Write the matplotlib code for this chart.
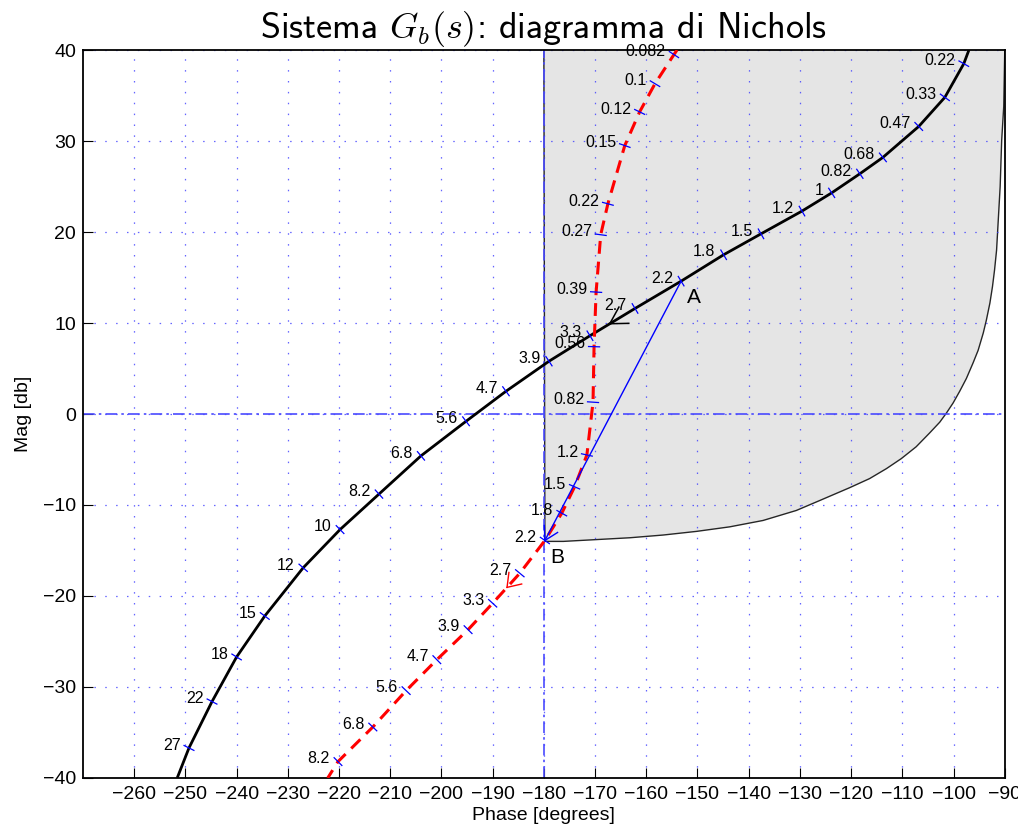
import numpy as np
import matplotlib
matplotlib.use("Agg")
import matplotlib.pyplot as plt

plt.rcParams["font.family"] = ["Liberation Sans", "DejaVu Sans"]
plt.rcParams["mathtext.fontset"] = "cm"

# curva di G_b (nera): pulsazioni e punti (fase, modulo)
black_w = [0.22, 0.33, 0.47, 0.68, 0.82, 1, 1.2, 1.5, 1.8, 2.2, 2.7, 3.3,
           3.9, 4.7, 5.6, 6.8, 8.2, 10, 12, 15, 18, 22, 27]
black_phase = [-98.0, -101.7, -106.8, -113.8, -118.3, -123.8, -129.6, -137.6,
               -144.9, -153.2, -162.2, -171.0, -179.0, -187.4, -195.2, -204.0,
               -212.2, -219.8, -227.0, -234.5, -240.0, -244.8, -249.3]
black_mag = [38.5, 34.8, 31.6, 28.2, 26.4, 24.3, 22.3, 19.8, 17.5, 14.6, 11.6,
             8.6, 5.8, 2.5, -0.8, -4.6, -8.8, -12.7, -16.9, -22.2, -26.7,
             -31.6, -36.7]
black_ends_phase = [-97.0, -251.6]
black_ends_mag = [40.0, -40.0]

# curva tratteggiata rossa
red_w = [0.082, 0.1, 0.12, 0.15, 0.22, 0.27, 0.39, 0.56, 0.82, 1.2, 1.5, 1.8,
         2.2, 2.7, 3.3, 3.9, 4.7, 5.6, 6.8, 8.2]
red_phase = [-154.6, -158.3, -161.3, -164.2, -167.5, -168.9, -169.8, -170.2,
             -170.4, -171.6, -174.0, -176.5, -179.8, -184.7, -190.0, -194.8,
             -200.9, -206.9, -213.4, -220.2]
red_mag = [39.5, 36.3, 33.2, 29.5, 23.1, 19.7, 13.4, 7.4, 1.3, -4.5, -8.0,
           -10.9, -13.9, -17.5, -20.8, -23.7, -27.0, -30.4, -34.4, -38.2]
red_ends_phase = [-154.0, -222.2]
red_ends_mag = [40.0, -40.0]

# regione ammissibile (grigia)
region_phase = [-180.0, -179.8, -176.2, -169.7, -163.2, -156.7, -150.2, -143.7,
                -137.2, -130.7, -126.1, -120.3, -116.4, -113.1, -110.2, -107.3,
                -104.7, -102.7, -101.4, -100.1, -98.8, -97.5, -96.2, -95.2,
                -94.2, -93.6, -92.9, -92.4, -92.0, -91.6, -90.9, -90.6, -90.2,
                -90.0]
region_mag = [40.0, -14.0, -14.0, -13.8, -13.6, -13.3, -12.9, -12.4, -11.7,
              -10.6, -9.5, -8.1, -7.1, -6.0, -4.9, -3.6, -2.1, -0.9, 0.1, 1.2,
              2.5, 3.9, 5.6, 7.0, 8.9, 10.3, 12.2, 14.0, 15.8, 18.0, 25.0, 30.1,
              33.8, 40.0]


def fmt(w):
    return f"{w:g}"


fig = plt.figure(figsize=(10.18, 8.31), dpi=100)
ax = fig.add_axes([0.0815, 0.0638, 0.9055, 0.8760])
ax.set_xlim(-270, -90)
ax.set_ylim(-40, 40)

ax.fill(region_phase, region_mag, facecolor="#e5e5e5", edgecolor="none", zorder=1)
ax.plot(region_phase, region_mag, color="0.15", lw=1.0, zorder=1.2)

ax.grid(True, color="#3030ff", alpha=0.75, linestyle=(0, (1.2, 7.5)), lw=0.9)
ax.axhline(0, color="#4a4aff", lw=1.2, linestyle=(0, (7, 2.5, 1.5, 2.5)), zorder=1.6)
ax.axvline(-180, color="#4a4aff", lw=1.2, linestyle=(0, (7, 2.5, 1.5, 2.5)), zorder=1.6)

bx = [black_ends_phase[0]] + black_phase + [black_ends_phase[1]]
by = [black_ends_mag[0]] + black_mag + [black_ends_mag[1]]
ax.plot(bx, by, color="black", lw=2.0, zorder=3, solid_capstyle="butt")

rx = [red_ends_phase[0]] + red_phase + [red_ends_phase[1]]
ry = [red_ends_mag[0]] + red_mag + [red_ends_mag[1]]
ax.plot(rx, ry, color="red", lw=2.2, linestyle=(0, (4.2, 2.6)), zorder=3)

to_px = ax.transData.transform
to_data = ax.transData.inverted().transform


def tick_marks(px, py, half=5.5):
    pts = to_px(np.column_stack([px, py]))
    d = np.gradient(pts, axis=0)
    d /= np.linalg.norm(d, axis=1)[:, None]
    nrm = np.column_stack([-d[:, 1], d[:, 0]])
    for p, n in zip(pts, nrm):
        seg = to_data(np.array([p - half * n, p + half * n]))
        ax.plot(seg[:, 0], seg[:, 1], color="blue", lw=0.9, zorder=4)


def barbs(tip, back, color, length=16.0, half_angle=28.0, lw=1.0):
    t = to_px(np.array([tip]))[0]
    b = to_px(np.array([back]))[0]
    u = (b - t) / np.linalg.norm(b - t)
    for s in (1, -1):
        a = np.deg2rad(s * half_angle)
        r = np.array([[np.cos(a), -np.sin(a)], [np.sin(a), np.cos(a)]]) @ u
        seg = to_data(np.array([t, t + length * r]))
        ax.plot(seg[:, 0], seg[:, 1], color=color, lw=lw, zorder=4)


tick_marks(black_phase, black_mag)
tick_marks(red_phase, red_mag)

for w, x, y in zip(black_w, black_phase, black_mag):
    ax.annotate(fmt(w), (x, y), xytext=(-6, 2), textcoords="offset points",
                ha="right", va="center", fontsize=11.5, zorder=5)
for w, x, y in zip(red_w, red_phase, red_mag):
    ax.annotate(fmt(w), (x, y), xytext=(-6, 2), textcoords="offset points",
                ha="right", va="center", fontsize=11.5, zorder=5)

# frecce di verso sulle due curve
i = black_w.index(2.7)
p0 = np.array([black_phase[i], black_mag[i]])
p1 = np.array([black_phase[i + 1], black_mag[i + 1]])
barbs(p0 + 0.56 * (p1 - p0), p0, "black", length=19, half_angle=30, lw=1.1)

j = red_w.index(2.7)
q0 = np.array([red_phase[j], red_mag[j]])
q1 = np.array([red_phase[j + 1], red_mag[j + 1]])
barbs(q0 + 0.47 * (q1 - q0), q0, "red", length=15, half_angle=35, lw=1.0)

# spostamento A -> B
ka = black_w.index(2.2)
kb = red_w.index(2.2)
A = (black_phase[ka], black_mag[ka])
B = (red_phase[kb], red_mag[kb])
ax.plot([A[0], B[0]], [A[1], B[1]], color="blue", lw=1.0, zorder=4)
barbs(B, A, "blue", length=15, half_angle=30, lw=1.0)
ax.annotate("A", A, xytext=(9, -12), textcoords="offset points",
            ha="center", va="center", fontsize=15, zorder=5)
ax.annotate("B", B, xytext=(9, -12), textcoords="offset points",
            ha="center", va="center", fontsize=15, zorder=5)

ax.set_xticks(np.arange(-260, -89, 10))
ax.set_yticks(np.arange(-40, 41, 10))
ax.tick_params(direction="in", length=7, width=0.8, labelsize=14)
ax.tick_params(axis="x", pad=6)
ax.tick_params(axis="y", pad=5)
for s in ax.spines.values():
    s.set_linewidth(1.3)

ax.set_xlabel("Phase [degrees]", fontsize=14, labelpad=3)
ax.set_ylabel("Mag [db]", fontsize=14, labelpad=8)
ax.set_title(r"Sistema $G_b(s)$: diagramma di Nichols", fontsize=26,
             family="cmss10", pad=9)

fig.savefig("out.png", dpi=100)
